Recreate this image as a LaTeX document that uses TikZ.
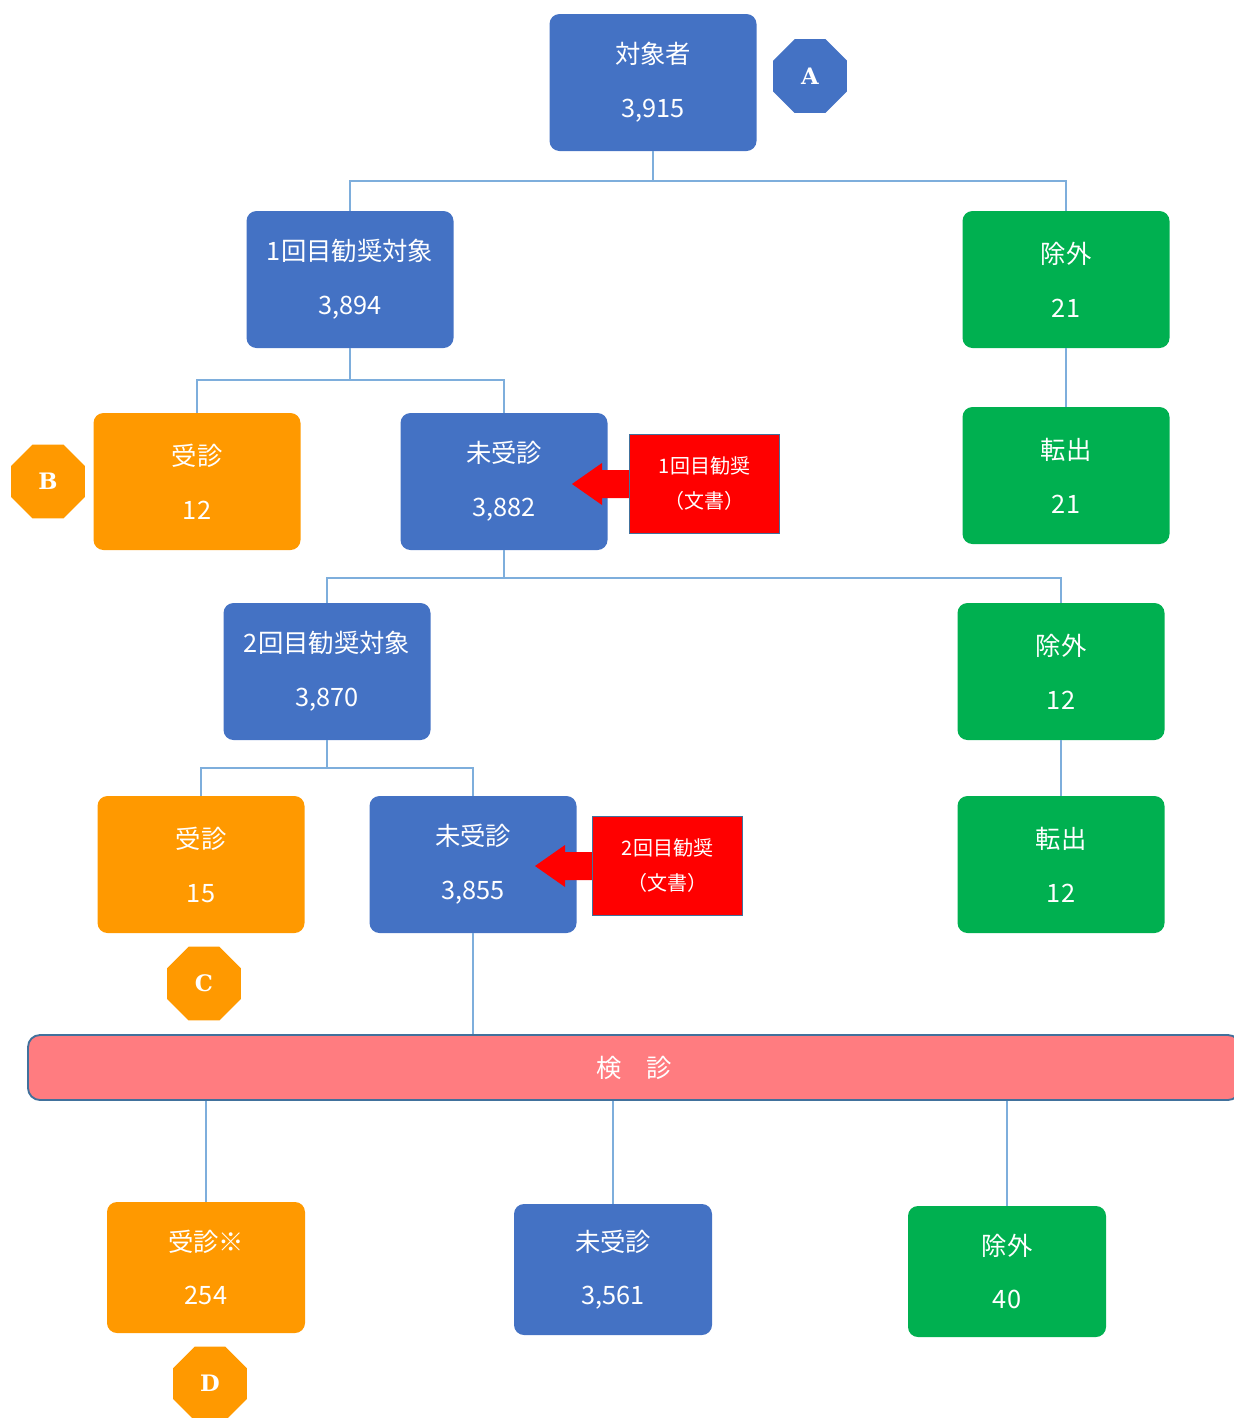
\documentclass[tikz,border=0pt]{standalone}
\usepackage{fontspec}
\setmainfont{Noto Sans CJK JP}
\newfontfamily\letterfont{DejaVu Serif}
\usetikzlibrary{shapes.geometric,calc}

\definecolor{boxblue}{HTML}{4472C4}
\definecolor{boxorange}{HTML}{FF9900}
\definecolor{boxgreen}{HTML}{00B050}
\definecolor{alertred}{HTML}{FF0000}
\definecolor{barpink}{HTML}{FF7C80}
\definecolor{edgeblue}{HTML}{41719C}
\definecolor{linkblue}{HTML}{7EAEDC}

\tikzset{
  card/.style={rounded corners=7.5pt, minimum width=155.25pt, minimum height=102.75pt,
    inner sep=0pt, text=white, align=center, font=\fontsize{19pt}{40.5pt}\selectfont},
  lowcard/.style={card, minimum width=148.5pt, minimum height=98.25pt,
    font=\fontsize{19pt}{39.75pt}\selectfont},
  notice/.style={fill=alertred, draw=edgeblue, line width=0.8pt, minimum width=112.5pt,
    minimum height=74.25pt, inner sep=0pt, text=white, align=center,
    font=\fontsize{15pt}{26.25pt}\selectfont},
  octa/.style={regular polygon, regular polygon sides=8, minimum size=60pt, inner sep=0pt,
    text=white, font=\letterfont\bfseries\fontsize{17pt}{17pt}\selectfont},
  link/.style={draw=linkblue, line width=1.6pt},
  pointer/.style={fill=alertred},
}

\begin{document}
\begin{tikzpicture}[x=0.75pt, y=-0.75pt]
\useasboundingbox (0,0) rectangle (1234,1418);
\clip (0,0) rectangle (1234,1418);

% junction points of the tree
\coordinate (j0) at (653,181);
\coordinate (j1) at (350,380);
\coordinate (j2) at (504,578);
\coordinate (j3) at (327,768);

% top level
\node[card, fill=boxblue] (total) at (653,82.5) {対象者\\3,915};
\node[octa, fill=boxblue] (mA) at (810,76) {A};

% first reminder level
\node[card, fill=boxblue] (first) at (350,279.5) {1回目勧奨対象\\3,894};
\node[card, fill=boxgreen] (exA) at (1066,279.5) {除外\\21};
\node[card, fill=boxgreen] (movA) at (1066,475.5) {転出\\21};
\node[card, fill=boxorange] (recA) at (197,481.5) {受診\\12};
\node[card, fill=boxblue] (notA) at (504,481.5) {未受診\\3,882};
\node[octa, fill=boxorange] (mB) at (48,481.5) {B};

% second reminder level
\node[card, fill=boxblue] (second) at (327,671.5) {2回目勧奨対象\\3,870};
\node[card, fill=boxgreen] (exB) at (1061,671.5) {除外\\12};
\node[card, fill=boxgreen] (movB) at (1061,864.5) {転出\\12};
\node[card, fill=boxorange] (recB) at (201,864.5) {受診\\15};
\node[card, fill=boxblue] (notB) at (473,864.5) {未受診\\3,855};
\node[octa, fill=boxorange] (mC) at (204,983.5) {C};

% reminder letters with their arrows
\coordinate (tipA) at (572,484);
\fill[pointer] ($(tipA)+(57.5,-14)$) -- ($(tipA)+(30,-14)$) -- ($(tipA)+(30,-21)$) -- (tipA)
  -- ($(tipA)+(30,21)$) -- ($(tipA)+(30,14)$) -- ($(tipA)+(57.5,14)$) -- cycle;
\node[notice, anchor=west] (letterA) at ($(tipA)+(57,0)$) {1回目勧奨\\（文書）};

\coordinate (tipB) at (535,866);
\fill[pointer] ($(tipB)+(57.5,-14)$) -- ($(tipB)+(30,-14)$) -- ($(tipB)+(30,-21)$) -- (tipB)
  -- ($(tipB)+(30,21)$) -- ($(tipB)+(30,14)$) -- ($(tipB)+(57.5,14)$) -- cycle;
\node[notice, anchor=west] (letterB) at ($(tipB)+(57,0)$) {2回目勧奨\\（文書）};

% screening bar
\node[fill=barpink, draw=edgeblue, line width=1.4pt, rounded corners=9pt,
  minimum width=909pt, minimum height=48.75pt, inner sep=0pt, text=white,
  font=\fontsize{19pt}{19pt}\selectfont] (exam) at (634,1067.5) {検　診};

% outcomes
\node[lowcard, fill=boxorange] (recC) at (206,1267.5) {受診※\\254};
\node[lowcard, fill=boxblue] (notC) at (613,1269.5) {未受診\\3,561};
\node[lowcard, fill=boxgreen] (exC) at (1007,1271.5) {除外\\40};
\node[octa, fill=boxorange] (mD) at (210,1383.5) {D};

% tree lines
\draw[link] (total.south) -- (j0);
\draw[link] (first.north) |- (j0) -| (exA.north);
\draw[link] (first.south) -- (j1);
\draw[link] (recA.north) |- (j1) -| (notA.north);
\draw[link] (exA.south) -- (movA.north);
\draw[link] (notA.south) -- (j2);
\draw[link] (second.north) |- (j2) -| (exB.north);
\draw[link] (second.south) -- (j3);
\draw[link] (recB.north) |- (j3) -| (notB.north);
\draw[link] (exB.south) -- (movB.north);
\draw[link] (notB.south) -- (notB.south |- exam.north);
\draw[link] (exam.south -| recC.north) -- (recC.north);
\draw[link] (exam.south -| notC.north) -- (notC.north);
\draw[link] (exam.south -| exC.north) -- (exC.north);
\end{tikzpicture}
\end{document}
